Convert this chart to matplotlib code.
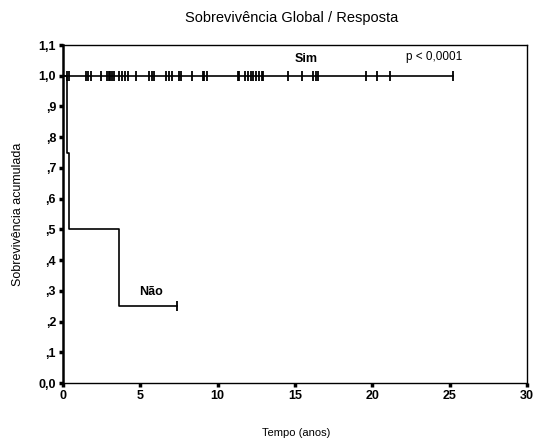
import matplotlib
matplotlib.use("Agg")
import matplotlib.pyplot as plt
from matplotlib import font_manager

# ---- data ----
sim_censored = [0.24, 0.39, 1.47, 1.64, 1.81, 2.43, 2.87, 2.95, 3.04, 3.15, 3.32,
                3.62, 3.79, 4.0, 4.18, 4.7, 5.58, 5.73, 5.9, 6.66, 6.87, 7.03,
                7.52, 7.63, 8.32, 9.03, 9.14, 9.29, 11.29, 11.4, 11.76, 11.98,
                12.13, 12.3, 12.48, 12.67, 12.84, 12.95, 14.56, 15.43, 16.18,
                16.35, 16.5, 19.59, 20.32, 21.14, 25.2]
sim_end = 25.2
nao_times = [0.0, 0.28, 0.39, 3.6, 7.35]
nao_surv = [1.0, 0.75, 0.5, 0.25, 0.25]
nao_censored = [7.35]
nao_censored_surv = [0.25]
yticks = [0.0, 0.1, 0.2, 0.3, 0.4, 0.5, 0.6, 0.7, 0.8, 0.9, 1.0, 1.1]
yticklabels = ["0,0", ",1", ",2", ",3", ",4", ",5", ",6", ",7", ",8", ",9", "1,0", "1,1"]
xticks = [0, 5, 10, 15, 20, 25, 30]

names = {f.name for f in font_manager.fontManager.ttflist}
narrow = "Liberation Sans Narrow" if "Liberation Sans Narrow" in names else "Liberation Sans"
plt.rcParams['font.family'] = [narrow, 'DejaVu Sans']
title_size = 12 if narrow == "Liberation Sans Narrow" else 10.5

fig = plt.figure(figsize=(5.42, 4.44), dpi=100)
ax = fig.add_axes([63/542, 1 - 383/444, (527-63)/542, (383-45)/444])

# Sim curve
ax.step([0, sim_end], [1.0, 1.0], where='post', color='black', lw=1.2)
ax.plot(sim_censored, [1.0]*len(sim_censored), linestyle='none', marker='|',
        color='black', markersize=7, mew=1.3)
# Não curve
ax.step(nao_times, nao_surv, where='post', color='black', lw=1.2)
ax.plot(nao_censored, nao_censored_surv, linestyle='none', marker='|',
        color='black', markersize=7, mew=1.3)

ax.set_xlim(0, 30)
ax.set_ylim(0, 1.1)
ax.set_xticks(xticks)
ax.set_xticklabels([str(x) for x in xticks], fontweight='bold', fontsize=9,
                   family=['Liberation Sans', 'DejaVu Sans'])
ax.set_yticks(yticks)
ax.set_yticklabels(yticklabels, fontweight='bold', fontsize=9,
                   family=['Liberation Sans', 'DejaVu Sans'])
ax.tick_params(direction='out', length=3, width=2.5, pad=2)
for s in ax.spines.values():
    s.set_linewidth(1.0)
ax.spines['left'].set_linewidth(1.8)

fig.text(292/542, 1 - 18/444, "Sobrevivência Global / Resposta",
         ha='center', va='center', fontsize=title_size)
fig.text(296/542, 1 - 433/444, "Tempo (anos)", ha='center', va='center', fontsize=8)
fig.text(18/542, 1 - 214/444, "Sobrevivência acumulada", ha='center', va='center',
         rotation=90, fontsize=9)

ax.text(15.7, 1.055, "Sim", ha='center', va='center', fontsize=9, fontweight='bold',
        family=['Liberation Sans', 'DejaVu Sans'])
ax.text(24.0, 1.062, "p < 0,0001", ha='center', va='center', fontsize=8.5,
        family=['Liberation Sans', 'DejaVu Sans'])
ax.text(5.7, 0.295, "Não", ha='center', va='center', fontsize=9, fontweight='bold',
        family=['Liberation Sans', 'DejaVu Sans'])

fig.savefig("out.png", dpi=100)
